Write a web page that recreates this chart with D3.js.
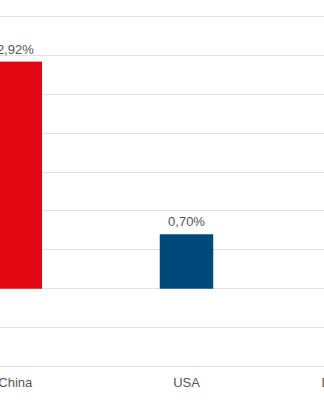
<!DOCTYPE html>
<html>
<head>
<meta charset="utf-8">
<script src="https://cdn.jsdelivr.net/npm/d3@7/dist/d3.min.js"></script>
<style>
  html, body { margin: 0; padding: 0; background: #ffffff; overflow: hidden; }
  svg { display: block; }
  text { font-family: "Liberation Sans", Arial, sans-serif; }
</style>
</head>
<body>
<svg id="chart" width="324" height="400"></svg>
<script>
// Data
const categories = ["China", "USA", "Deutschland"];
const values = [2.92, 0.70, null];          // third bar lies outside the visible area
const valueLabels = ["2,92%", "0,70%", ""];
const barColors = ["#e30613", "#00497b", "#00497b"];
const yTicks = [-1, -0.5, 0, 0.5, 1, 1.5, 2, 2.5, 3, 3.5];

const W = 324, H = 400;
const svg = d3.select("#chart");

const step = 171.2;
const firstCenter = 15.3;
const x = d3.scaleBand()
  .domain(categories)
  .range([firstCenter - step / 2, firstCenter - step / 2 + step * categories.length])
  .paddingInner(0.6875)
  .paddingOuter(0.34375);

const y = d3.scaleLinear()
  .domain([-1, 3.5])
  .range([366.5, 16.5]);

// Gridlines
svg.append("g")
  .selectAll("line")
  .data(yTicks)
  .join("line")
  .attr("x1", 0)
  .attr("x2", W)
  .attr("y1", d => Math.round(y(d) - 0.5) + 0.5)
  .attr("y2", d => Math.round(y(d) - 0.5) + 0.5)
  .attr("stroke", "#e2e2e2")
  .attr("stroke-width", 1);

const data = categories.map((c, i) => ({ c, v: values[i], label: valueLabels[i], color: barColors[i] }));
const shown = data.filter(d => d.v !== null);

// Bars
svg.append("g")
  .selectAll("rect")
  .data(shown)
  .join("rect")
  .attr("x", d => x(d.c))
  .attr("width", x.bandwidth())
  .attr("y", d => y(Math.max(0, d.v)))
  .attr("height", d => Math.abs(y(d.v) - y(0)))
  .attr("fill", d => d.color);

// Value labels
svg.append("g")
  .selectAll("text")
  .data(shown)
  .join("text")
  .attr("x", d => x(d.c) + x.bandwidth() / 2)
  .attr("y", d => y(d.v) - 8)
  .attr("text-anchor", "middle")
  .attr("font-size", 13)
  .attr("fill", "#555555")
  .text(d => d.label);

// Category axis labels
const xAxis = d3.axisBottom(x).tickSize(0).tickPadding(0);
const gx = svg.append("g")
  .attr("transform", "translate(0,377)")
  .call(xAxis);
gx.select(".domain").remove();
gx.selectAll("text")
  .attr("font-size", 13)
  .attr("fill", "#555555")
  .attr("dy", "0.77em")
  .style("font-family", "'Liberation Sans', Arial, sans-serif");
</script>
</body>
</html>
